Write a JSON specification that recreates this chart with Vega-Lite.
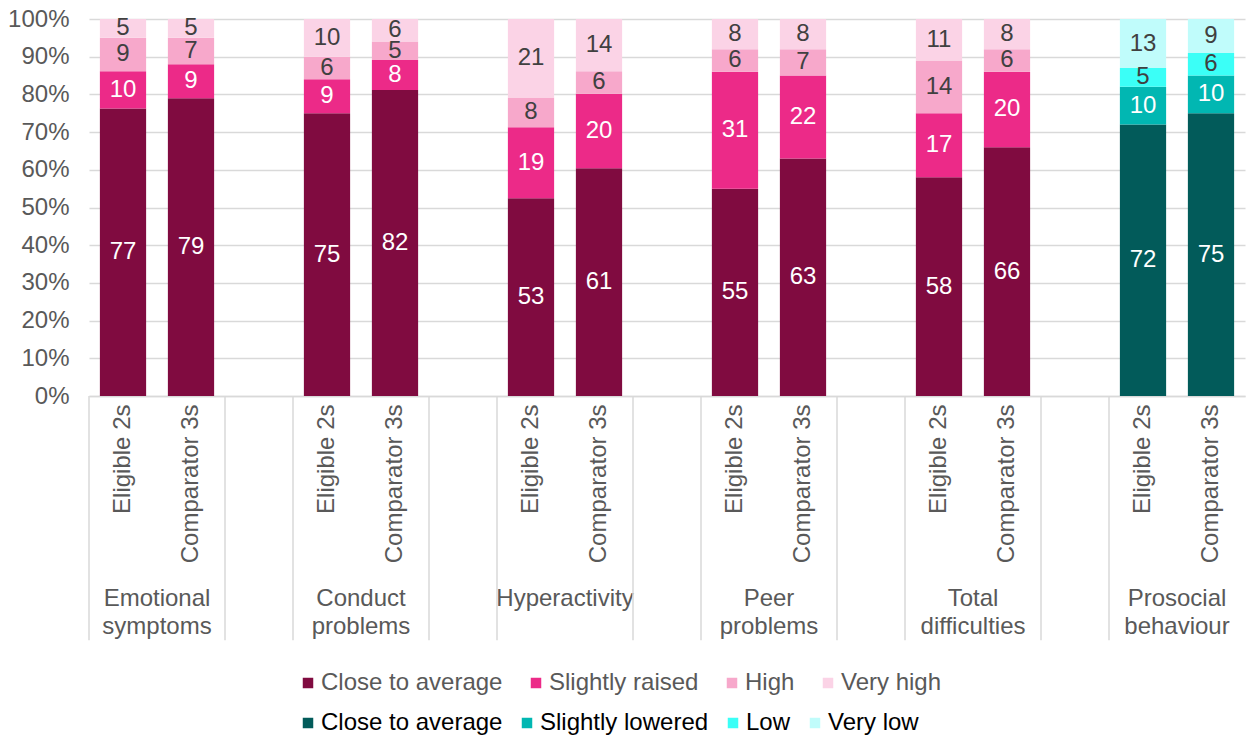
{
  "$schema": "https://vega.github.io/schema/vega-lite/v6.json",
  "width": 1156,
  "height": 377,
  "autosize": {"type": "none"},
  "padding": {"left": 89, "top": 19, "right": 1, "bottom": 339},
  "background": "white",
  "config": {"font": "Liberation Sans", "view": {"stroke": null}},
  "datasets": {
    "diff": [
      {"cat": "Emotional symptoms|Eligible 2s", "level": "Close to average", "rank": 1, "value": 77},
      {"cat": "Emotional symptoms|Eligible 2s", "level": "Slightly raised", "rank": 2, "value": 10},
      {"cat": "Emotional symptoms|Eligible 2s", "level": "High", "rank": 3, "value": 9},
      {"cat": "Emotional symptoms|Eligible 2s", "level": "Very high", "rank": 4, "value": 5},
      {"cat": "Emotional symptoms|Comparator 3s", "level": "Close to average", "rank": 1, "value": 79},
      {"cat": "Emotional symptoms|Comparator 3s", "level": "Slightly raised", "rank": 2, "value": 9},
      {"cat": "Emotional symptoms|Comparator 3s", "level": "High", "rank": 3, "value": 7},
      {"cat": "Emotional symptoms|Comparator 3s", "level": "Very high", "rank": 4, "value": 5},
      {"cat": "Conduct problems|Eligible 2s", "level": "Close to average", "rank": 1, "value": 75},
      {"cat": "Conduct problems|Eligible 2s", "level": "Slightly raised", "rank": 2, "value": 9},
      {"cat": "Conduct problems|Eligible 2s", "level": "High", "rank": 3, "value": 6},
      {"cat": "Conduct problems|Eligible 2s", "level": "Very high", "rank": 4, "value": 10},
      {"cat": "Conduct problems|Comparator 3s", "level": "Close to average", "rank": 1, "value": 82},
      {"cat": "Conduct problems|Comparator 3s", "level": "Slightly raised", "rank": 2, "value": 8},
      {"cat": "Conduct problems|Comparator 3s", "level": "High", "rank": 3, "value": 5},
      {"cat": "Conduct problems|Comparator 3s", "level": "Very high", "rank": 4, "value": 6},
      {"cat": "Hyperactivity|Eligible 2s", "level": "Close to average", "rank": 1, "value": 53},
      {"cat": "Hyperactivity|Eligible 2s", "level": "Slightly raised", "rank": 2, "value": 19},
      {"cat": "Hyperactivity|Eligible 2s", "level": "High", "rank": 3, "value": 8},
      {"cat": "Hyperactivity|Eligible 2s", "level": "Very high", "rank": 4, "value": 21},
      {"cat": "Hyperactivity|Comparator 3s", "level": "Close to average", "rank": 1, "value": 61},
      {"cat": "Hyperactivity|Comparator 3s", "level": "Slightly raised", "rank": 2, "value": 20},
      {"cat": "Hyperactivity|Comparator 3s", "level": "High", "rank": 3, "value": 6},
      {"cat": "Hyperactivity|Comparator 3s", "level": "Very high", "rank": 4, "value": 14},
      {"cat": "Peer problems|Eligible 2s", "level": "Close to average", "rank": 1, "value": 55},
      {"cat": "Peer problems|Eligible 2s", "level": "Slightly raised", "rank": 2, "value": 31},
      {"cat": "Peer problems|Eligible 2s", "level": "High", "rank": 3, "value": 6},
      {"cat": "Peer problems|Eligible 2s", "level": "Very high", "rank": 4, "value": 8},
      {"cat": "Peer problems|Comparator 3s", "level": "Close to average", "rank": 1, "value": 63},
      {"cat": "Peer problems|Comparator 3s", "level": "Slightly raised", "rank": 2, "value": 22},
      {"cat": "Peer problems|Comparator 3s", "level": "High", "rank": 3, "value": 7},
      {"cat": "Peer problems|Comparator 3s", "level": "Very high", "rank": 4, "value": 8},
      {"cat": "Total difficulties|Eligible 2s", "level": "Close to average", "rank": 1, "value": 58},
      {"cat": "Total difficulties|Eligible 2s", "level": "Slightly raised", "rank": 2, "value": 17},
      {"cat": "Total difficulties|Eligible 2s", "level": "High", "rank": 3, "value": 14},
      {"cat": "Total difficulties|Eligible 2s", "level": "Very high", "rank": 4, "value": 11},
      {"cat": "Total difficulties|Comparator 3s", "level": "Close to average", "rank": 1, "value": 66},
      {"cat": "Total difficulties|Comparator 3s", "level": "Slightly raised", "rank": 2, "value": 20},
      {"cat": "Total difficulties|Comparator 3s", "level": "High", "rank": 3, "value": 6},
      {"cat": "Total difficulties|Comparator 3s", "level": "Very high", "rank": 4, "value": 8}
    ],
    "pro": [
      {"cat": "Prosocial behaviour|Eligible 2s", "level": "Close to average", "rank": 1, "value": 72},
      {"cat": "Prosocial behaviour|Eligible 2s", "level": "Slightly lowered", "rank": 2, "value": 10},
      {"cat": "Prosocial behaviour|Eligible 2s", "level": "Low", "rank": 3, "value": 5},
      {"cat": "Prosocial behaviour|Eligible 2s", "level": "Very low", "rank": 4, "value": 13},
      {"cat": "Prosocial behaviour|Comparator 3s", "level": "Close to average", "rank": 1, "value": 75},
      {"cat": "Prosocial behaviour|Comparator 3s", "level": "Slightly lowered", "rank": 2, "value": 10},
      {"cat": "Prosocial behaviour|Comparator 3s", "level": "Low", "rank": 3, "value": 6},
      {"cat": "Prosocial behaviour|Comparator 3s", "level": "Very low", "rank": 4, "value": 9}
    ],
    "div": [
      {"cat": "Emotional symptoms|Eligible 2s"},
      {"cat": "gap1"},
      {"cat": "Conduct problems|Eligible 2s"},
      {"cat": "gap2"},
      {"cat": "Hyperactivity|Eligible 2s"},
      {"cat": "gap3"},
      {"cat": "Peer problems|Eligible 2s"},
      {"cat": "gap4"},
      {"cat": "Total difficulties|Eligible 2s"},
      {"cat": "gap5"},
      {"cat": "Prosocial behaviour|Eligible 2s"}
    ]
  },
  "resolve": {
    "scale": {"color": "independent"},
    "axis": {"x": "independent", "y": "independent"},
    "legend": {"color": "independent"}
  },
  "layer": [
    {
      "data": {"name": "diff"},
      "mark": {"type": "bar"},
      "encoding": {
        "x": {
          "field": "cat", "type": "nominal",
          "scale": {"domain": ["Emotional symptoms|Eligible 2s","Emotional symptoms|Comparator 3s","gap1","Conduct problems|Eligible 2s","Conduct problems|Comparator 3s","gap2","Hyperactivity|Eligible 2s","Hyperactivity|Comparator 3s","gap3","Peer problems|Eligible 2s","Peer problems|Comparator 3s","gap4","Total difficulties|Eligible 2s","Total difficulties|Comparator 3s","gap5","Prosocial behaviour|Eligible 2s","Prosocial behaviour|Comparator 3s"], "paddingInner": 0.32, "paddingOuter": 0.16},
          "axis": {
            "title": null, "orient": "bottom",
            "labelExpr": "indexof(datum.value, '|') > 0 ? split(datum.value, '|')[1] : ''",
            "labelAngle": -90, "labelAlign": "right", "labelBaseline": "middle",
            "labelPadding": 8, "ticks": false,
            "domain": true, "domainColor": "#d9d9d9", "domainWidth": 1.5,
            "labelFontSize": 24, "labelColor": "#595959", "labelFont": "Liberation Sans",
            "labelLimit": 400, "labelOverlap": false, "grid": false
          }
        },
        "y": {
          "field": "value", "type": "quantitative", "stack": "normalize",
          "scale": {"domain": [0, 1]},
          "axis": {
            "title": null, "values": [0, 0.1, 0.2, 0.3, 0.4, 0.5, 0.6, 0.7, 0.8, 0.9, 1],
            "format": ".0%", "grid": true, "gridColor": "#d9d9d9", "gridWidth": 1.5,
            "domain": false, "ticks": false, "labelFontSize": 24, "labelColor": "#595959",
            "labelFont": "Liberation Sans", "labelPadding": 20, "orient": "left"
          }
        },
        "order": {"field": "rank", "type": "quantitative", "sort": "ascending"},
        "color": {
          "field": "level", "type": "nominal",
          "sort": ["Close to average", "Slightly raised", "High", "Very high"],
          "scale": {"domain": ["Close to average", "Slightly raised", "High", "Very high"], "range": ["#800b40", "#ec2a88", "#f7a8cb", "#fbd3e6"]},
          "legend": {
            "orient": "none", "legendX": 207, "legendY": 652, "direction": "horizontal", "columns": 4,
            "title": null, "symbolType": "square", "symbolSize": 110, "symbolStrokeWidth": 0,
            "labelFontSize": 24, "labelColor": "#595959", "labelFont": "Liberation Sans",
            "columnPadding": 21, "labelOffset": 1, "labelLimit": 400
          }
        }
      }
    },
    {
      "data": {"name": "pro"},
      "mark": {"type": "bar"},
      "encoding": {
        "x": {
          "field": "cat", "type": "nominal",
          "scale": {"domain": ["Emotional symptoms|Eligible 2s","Emotional symptoms|Comparator 3s","gap1","Conduct problems|Eligible 2s","Conduct problems|Comparator 3s","gap2","Hyperactivity|Eligible 2s","Hyperactivity|Comparator 3s","gap3","Peer problems|Eligible 2s","Peer problems|Comparator 3s","gap4","Total difficulties|Eligible 2s","Total difficulties|Comparator 3s","gap5","Prosocial behaviour|Eligible 2s","Prosocial behaviour|Comparator 3s"], "paddingInner": 0.32, "paddingOuter": 0.16},
          "axis": {
            "title": null, "orient": "bottom",
            "labelExpr": "indexof(datum.value, '|Eligible') > 0 ? split(split(datum.value, '|')[0], ' ') : ''",
            "labelAngle": 0, "labelOffset": 34,
            "labelPadding": 190, "labelBaseline": "top", "labelAlign": "center",
            "labelLineHeight": 28, "ticks": false, "domain": false, "grid": false,
            "labelFontSize": 24, "labelColor": "#595959", "labelFont": "Liberation Sans",
            "labelOverlap": false, "labelLimit": 400
          }
        },
        "y": {"field": "value", "type": "quantitative", "stack": "normalize", "scale": {"domain": [0, 1]}, "axis": null},
        "order": {"field": "rank", "type": "quantitative", "sort": "ascending"},
        "color": {
          "field": "level", "type": "nominal",
          "sort": ["Close to average", "Slightly lowered", "Low", "Very low"],
          "scale": {"domain": ["Close to average", "Slightly lowered", "Low", "Very low"], "range": ["#025b5a", "#01b7b2", "#3bfff7", "#c0fcfb"]},
          "legend": {
            "orient": "none", "legendX": 207, "legendY": 692, "direction": "horizontal", "columns": 4,
            "title": null, "symbolType": "square", "symbolSize": 110, "symbolStrokeWidth": 0,
            "labelFontSize": 24, "labelColor": "#000000", "labelFont": "Liberation Sans",
            "columnPadding": 12, "labelOffset": 1, "labelLimit": 400
          }
        }
      }
    },
    {
      "data": {"name": "diff"},
      "mark": {"type": "text", "fontSize": 24, "font": "Liberation Sans", "baseline": "middle", "align": "center"},
      "encoding": {
        "x": {
          "field": "cat", "type": "nominal",
          "scale": {"domain": ["Emotional symptoms|Eligible 2s","Emotional symptoms|Comparator 3s","gap1","Conduct problems|Eligible 2s","Conduct problems|Comparator 3s","gap2","Hyperactivity|Eligible 2s","Hyperactivity|Comparator 3s","gap3","Peer problems|Eligible 2s","Peer problems|Comparator 3s","gap4","Total difficulties|Eligible 2s","Total difficulties|Comparator 3s","gap5","Prosocial behaviour|Eligible 2s","Prosocial behaviour|Comparator 3s"], "paddingInner": 0.32, "paddingOuter": 0.16},
          "axis": null
        },
        "y": {"field": "value", "type": "quantitative", "stack": "normalize", "bandPosition": 0.5, "scale": {"domain": [0, 1]}, "axis": null},
        "order": {"field": "rank", "type": "quantitative", "sort": "ascending"},
        "color": {
          "field": "level", "type": "nominal",
          "scale": {"domain": ["Close to average", "Slightly raised", "High", "Very high"], "range": ["#ffffff", "#ffffff", "#404040", "#404040"]},
          "legend": null
        },
        "text": {"field": "value", "type": "quantitative"}
      }
    },
    {
      "data": {"name": "pro"},
      "mark": {"type": "text", "fontSize": 24, "font": "Liberation Sans", "baseline": "middle", "align": "center"},
      "encoding": {
        "x": {
          "field": "cat", "type": "nominal",
          "scale": {"domain": ["Emotional symptoms|Eligible 2s","Emotional symptoms|Comparator 3s","gap1","Conduct problems|Eligible 2s","Conduct problems|Comparator 3s","gap2","Hyperactivity|Eligible 2s","Hyperactivity|Comparator 3s","gap3","Peer problems|Eligible 2s","Peer problems|Comparator 3s","gap4","Total difficulties|Eligible 2s","Total difficulties|Comparator 3s","gap5","Prosocial behaviour|Eligible 2s","Prosocial behaviour|Comparator 3s"], "paddingInner": 0.32, "paddingOuter": 0.16},
          "axis": null
        },
        "y": {"field": "value", "type": "quantitative", "stack": "normalize", "bandPosition": 0.5, "scale": {"domain": [0, 1]}, "axis": null},
        "order": {"field": "rank", "type": "quantitative", "sort": "ascending"},
        "color": {
          "field": "level", "type": "nominal",
          "scale": {"domain": ["Close to average", "Slightly lowered", "Low", "Very low"], "range": ["#ffffff", "#ffffff", "#404040", "#404040"]},
          "legend": null
        },
        "text": {"field": "value", "type": "quantitative"}
      }
    },
    {
      "data": {"name": "div"},
      "mark": {"type": "rule", "color": "#d9d9d9", "strokeWidth": 1.5},
      "encoding": {
        "x": {
          "field": "cat", "type": "nominal", "bandPosition": -0.2353,
          "scale": {"domain": ["Emotional symptoms|Eligible 2s","Emotional symptoms|Comparator 3s","gap1","Conduct problems|Eligible 2s","Conduct problems|Comparator 3s","gap2","Hyperactivity|Eligible 2s","Hyperactivity|Comparator 3s","gap3","Peer problems|Eligible 2s","Peer problems|Comparator 3s","gap4","Total difficulties|Eligible 2s","Total difficulties|Comparator 3s","gap5","Prosocial behaviour|Eligible 2s","Prosocial behaviour|Comparator 3s"], "paddingInner": 0.32, "paddingOuter": 0.16},
          "axis": null
        },
        "y": {"datum": 0, "type": "quantitative", "scale": {"domain": [0, 1]}, "axis": null},
        "y2": {"datum": -0.648}
      }
    }
  ]
}
